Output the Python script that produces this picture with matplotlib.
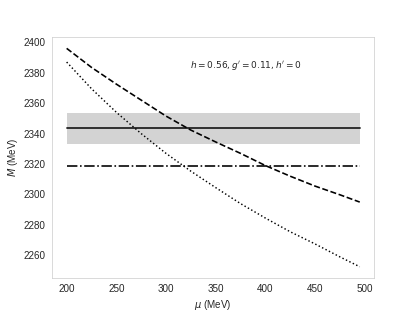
import matplotlib
matplotlib.use("Agg")
import matplotlib.pyplot as plt
import seaborn as sns
import numpy as np

sns.set_style("whitegrid")
plt.rcParams['font.family'] = ['sans-serif']
plt.rcParams['font.sans-serif'] = ['Liberation Sans', 'DejaVu Sans']
plt.rcParams['xtick.labelsize'] = 11
plt.rcParams['ytick.labelsize'] = 11
plt.rcParams['axes.labelsize'] = 11

mu = [200, 225, 250, 275, 300, 325, 350, 375, 400, 425, 450, 475, 495]
m_dashed = [2396, 2383.5, 2372.5, 2362, 2351.5, 2342.3, 2334.5, 2327, 2319, 2312, 2305.5, 2299.8, 2295]
m_dotted = [2387, 2369.5, 2354, 2340, 2327, 2315.3, 2304.5, 2294, 2284.5, 2275.5, 2267.5, 2259, 2252.5]
m_exp = 2343.4
m_exp_err = 10.2
m_dashdot = 2318.4
label_text = r"$h = 0.56, g' = 0.11, h' = 0$"

fig, ax = plt.subplots(figsize=(6.4, 4.8), dpi=65)
mu_a = np.array(mu)
ax.fill_between(mu_a, m_exp - m_exp_err, m_exp + m_exp_err, color='lightgray', lw=0)
ax.plot(mu_a, np.full(len(mu_a), m_exp), color='#222222', lw=2, ls='-')
ax.plot(mu_a, np.full(len(mu_a), m_dashdot), color='k', lw=1.8, ls='-.')
ax.plot(mu_a, m_dashed, color='k', lw=1.8, ls='--')
ax.plot(mu_a, m_dotted, color='k', lw=1.6, ls=':')
ax.grid(False)
ax.text(324, 2385, label_text, fontsize=10, va='center', ha='left')
ax.set_xlabel(r"$\mu$ (MeV)")
ax.set_ylabel(r"$M$ (MeV)")
fig.savefig("out.png", dpi=65)
